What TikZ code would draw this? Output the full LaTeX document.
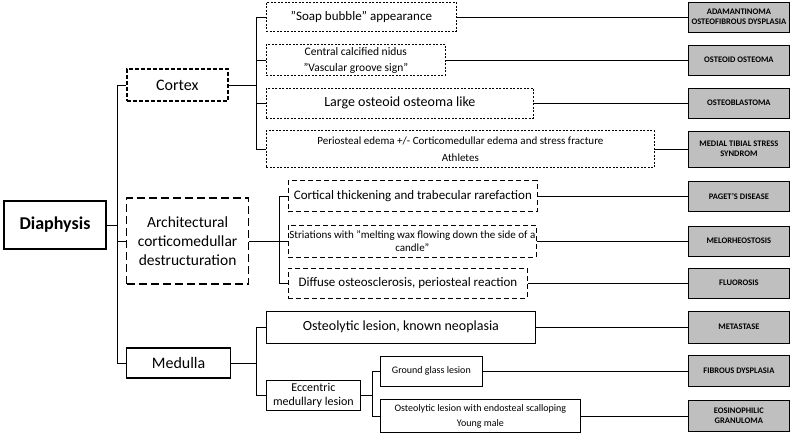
\documentclass[tikz,border=0pt]{standalone}
\usepackage{fontspec}
\setmainfont{Carlito}
\tikzset{every picture/.style={line width=0.75pt}}
\tikzset{
  box/.style={draw, anchor=west, align=center, inner sep=1pt},
  dotbox/.style={box, dash pattern=on 2pt off 1.5pt},
  dashbox/.style={box, dash pattern=on 5pt off 3pt},
  res/.style={draw, fill=black!25, anchor=west, align=center, minimum width=101pt, inner sep=1pt, font=\fontsize{8.5}{10}\selectfont\bfseries},
  link/.style={line width=0.75pt}
}
\begin{document}
\begin{tikzpicture}[x=1pt,y=1pt,yscale=-1,xscale=1]
		\useasboundingbox (0,0) rectangle (790,436);
		%main levels
		\node [box, line width=2pt, minimum width=102pt, minimum height=48pt, font=\fontsize{18}{20}\selectfont\bfseries] (diaph) at (3,225) {Diaphysis};
		\node [box, line width=1.5pt, dash pattern=on 4pt off 2pt, minimum width=101pt, minimum height=32pt, font=\fontsize{16}{18}\selectfont] (cortex) at (126,85) {Cortex};
		\node [box, line width=1.2pt, dash pattern=on 8pt off 4pt, minimum width=122pt, minimum height=86pt, font=\fontsize{15.5}{19}\selectfont] (archi) at (126,241) {Architectural\\corticomedullar\\destructuration};
		\node [box, line width=1.2pt, minimum width=104pt, minimum height=30pt, font=\fontsize{16}{18}\selectfont] (medulla) at (126,363) {Medulla};
		
		%cortex findings
		\node [dotbox, minimum width=190pt, minimum height=29pt, font=\fontsize{13}{15}\selectfont] (soap) at (266,17) {"Soap bubble" appearance};
		\node [dotbox, minimum width=179pt, minimum height=31pt, font=\fontsize{11.5}{16}\selectfont] (nidus) at (266,60) {Central calcified nidus\\"Vascular groove sign"};
		\node [dotbox, minimum width=267pt, minimum height=30pt, font=\fontsize{14}{16}\selectfont] (large) at (266,103) {Large osteoid osteoma like};
		\node [dotbox, minimum width=388pt, minimum height=37pt, font=\fontsize{11}{17}\selectfont] (perio) at (266,149) {Periosteal edema +/- Corticomedullar edema and stress fracture\\Athletes};
		
		%architectural findings
		\node [dashbox, minimum width=249pt, minimum height=31pt, font=\fontsize{13}{15}\selectfont] (cortic) at (288,196) {Cortical thickening and trabecular rarefaction};
		\node [dashbox, minimum width=247pt, minimum height=32pt, font=\fontsize{11}{13}\selectfont] (stria) at (288,241) {Striations with "melting wax flowing down the side of a\\candle"};
		\node [dashbox, minimum width=239pt, minimum height=30pt, font=\fontsize{13}{15}\selectfont] (diffuse) at (288,283) {Diffuse osteosclerosis, periosteal reaction};
		
		%medulla findings
		\node [box, minimum width=269pt, minimum height=32pt, font=\fontsize{14}{16}\selectfont] (lysis) at (266,327) {Osteolytic lesion, known neoplasia};
		\node [box, minimum width=94pt, minimum height=30pt, font=\fontsize{12}{14}\selectfont] (eccen) at (266,395) {Eccentric\\medullary lesion};
		\node [box, minimum width=102pt, minimum height=30pt, font=\fontsize{10}{12}\selectfont] (ground) at (380,371) {Ground glass lesion};
		\node [box, minimum width=200pt, minimum height=33pt, font=\fontsize{10}{15}\selectfont] (endo) at (380,416) {Osteolytic lesion with endosteal scalloping\\Young male};
		
		%results
		\node [res, minimum height=30pt] (r1) at (688,17) {ADAMANTINOMA\\OSTEOFIBROUS DYSPLASIA};
		\node [res, minimum height=30pt] (r2) at (688,60) {OSTEOID OSTEOMA};
		\node [res, minimum height=30pt] (r3) at (688,103) {OSTEOBLASTOMA};
		\node [res, minimum height=36pt] (r4) at (688,149) {MEDIAL TIBIAL STRESS\\SYNDROM};
		\node [res, minimum height=30pt] (r5) at (688,196) {PAGET'S DISEASE};
		\node [res, minimum height=30pt] (r6) at (688,241) {MELORHEOSTOSIS};
		\node [res, minimum height=30pt] (r7) at (688,283) {FLUOROSIS};
		\node [res, minimum height=32pt] (r8) at (688,327) {METASTASE};
		\node [res, minimum height=31pt] (r9) at (688,371) {FIBROUS DYSPLASIA};
		\node [res, minimum height=31pt] (r10) at (688,416) {EOSINOPHILIC\\GRANULOMA};
		
		%tree
		\draw [link] (diaph.east) -- (117,225);
		\draw [link] (cortex.west) -| (117,363) -- (medulla.west);
		\draw [link] (117,241) -- (archi.west);
		\draw [link] (cortex.east) -- (256,85);
		\draw [link] (soap.west) -| (256,149) -- (perio.west);
		\draw [link] (256,60) -- (nidus.west);
		\draw [link] (256,103) -- (large.west);
		\draw [link] (archi.east) -- (279,241);
		\draw [link] (cortic.west) -| (279,283) -- (diffuse.west);
		\draw [link] (279,241) -- (stria.west);
		\draw [link] (medulla.east) -- (256,363);
		\draw [link] (lysis.west) -| (256,395) -- (eccen.west);
		\draw [link] (eccen.east) -- (372,395);
		\draw [link] (ground.west) -| (372,416) -- (endo.west);
		
		%to results
		\foreach \a/\b in {soap/r1, nidus/r2, large/r3, perio/r4, cortic/r5, stria/r6, diffuse/r7, lysis/r8, ground/r9, endo/r10}
			\draw [link] (\a.east) -- (\b.west);
		
	\end{tikzpicture}
\end{document}
